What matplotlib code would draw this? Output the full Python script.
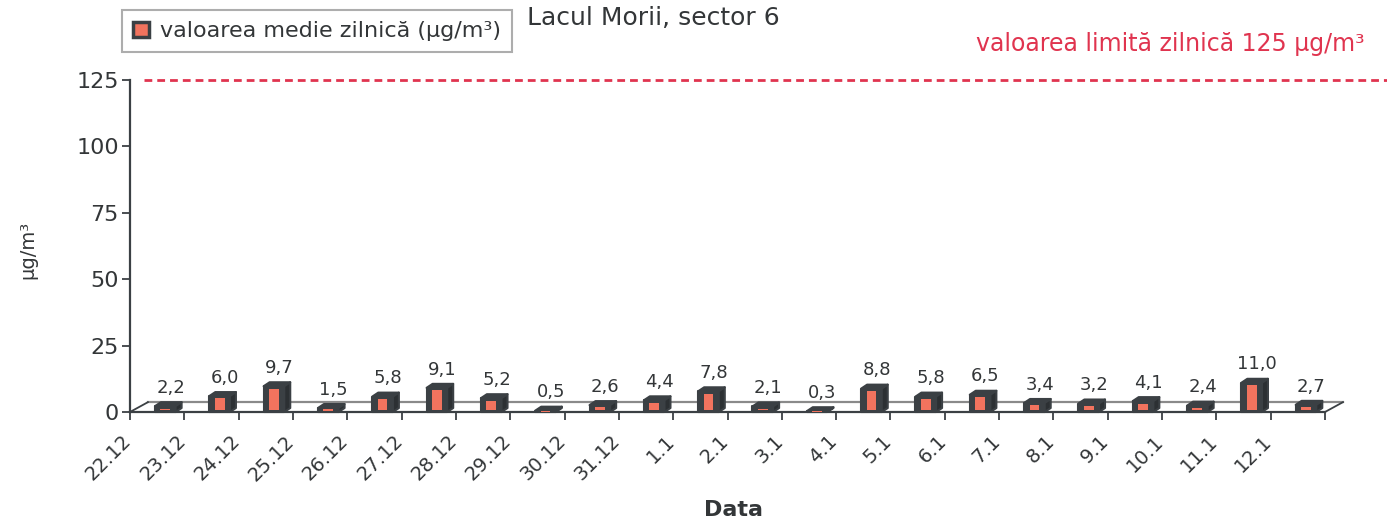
#!/usr/bin/env python3
"""Lacul Morii, sector 6 - daily mean values with pseudo-3D bars."""

import matplotlib
matplotlib.use("Agg")
import matplotlib.pyplot as plt
from matplotlib.patches import Rectangle, Polygon, Patch
from matplotlib.transforms import ScaledTranslation

# data
dates = ["22.12", "23.12", "24.12", "25.12", "26.12", "27.12", "28.12", "29.12",
         "30.12", "31.12", "1.1", "2.1", "3.1", "4.1", "5.1", "6.1", "7.1",
         "8.1", "9.1", "10.1", "11.1", "12.1"]
values = [2.2, 6.0, 9.7, 1.5, 5.8, 9.1, 5.2, 0.5, 2.6, 4.4, 7.8, 2.1, 0.3,
          8.8, 5.8, 6.5, 3.4, 3.2, 4.1, 2.4, 11.0, 2.7]
limit_value = 125
y_ticks = [0, 25, 50, 75, 100, 125]

DARK = "#3b4044"
SALMON = "#f2735e"
RED = "#e0344f"
TEXT = "#333638"

plt.rcParams['font.family'] = ['DejaVu Sans']

fig = plt.figure(figsize=(13.87, 5.21), dpi=100)
ax = fig.add_axes([130 / 1387, 1 - 412 / 521, (1325 - 130) / 1387, 332 / 521])

n = len(values)
ax.set_xlim(0, n)
ax.set_ylim(0, limit_value)

# floor depth (3D look)
fdx, fdy = 0.33, 3.7
ax.plot([0, fdx], [0, fdy], color=DARK, lw=1.3, clip_on=False, zorder=2)
ax.plot([n, n + fdx], [0, fdy], color=DARK, lw=1.3, clip_on=False, zorder=2)
ax.plot([fdx, n + fdx], [fdy, fdy], color="#8a8a8a", lw=1.6, clip_on=False, zorder=1)

# bars
w = 0.38
bdx, bdy = 0.11, 1.5
for i, v in enumerate(values):
    x0 = i + 0.5 - w / 2 + 0.15
    ax.add_patch(Rectangle((x0, 0), w, v, facecolor=DARK, edgecolor=DARK,
                           lw=1.5, joinstyle="round", zorder=3, clip_on=False))
    ax.add_patch(Polygon([(x0, v), (x0 + w, v), (x0 + w + bdx, v + bdy),
                          (x0 + bdx, v + bdy)], closed=True, facecolor=DARK,
                         edgecolor=DARK, lw=1.5, joinstyle="round", zorder=3,
                         clip_on=False))
    ax.add_patch(Polygon([(x0 + w, 0), (x0 + w + bdx, bdy), (x0 + w + bdx, v + bdy),
                          (x0 + w, v)], closed=True, facecolor="#2c3033",
                         edgecolor=DARK, lw=1.5, joinstyle="round", zorder=3,
                         clip_on=False))
    inset_x = 0.1
    inner_h = max(v - 1.8, 0.4)
    ax.add_patch(Rectangle((x0 + inset_x, (v - inner_h) / 2), w - 2 * inset_x, inner_h,
                           facecolor=SALMON, edgecolor="none", zorder=4))
    ax.text(i + 0.5 + 0.25, v + bdy + 2.0, f"{v:.1f}".replace(".", ","), ha="center",
            va="bottom", fontsize=13, color=TEXT, zorder=5)

# limit line
ax.plot([0.25, n + 1.15], [limit_value, limit_value], color=RED, lw=2,
        ls=(0, (2.8, 1.8)), clip_on=False, zorder=2)

# axes styling
for side in ["top", "right"]:
    ax.spines[side].set_visible(False)
ax.spines["left"].set_color(DARK)
ax.spines["bottom"].set_color(DARK)
ax.spines["left"].set_linewidth(1.6)
ax.spines["bottom"].set_linewidth(1.6)

ax.set_yticks(y_ticks)
ax.set_yticklabels([str(t) for t in y_ticks], fontsize=16, color=TEXT)
ax.set_xticks(range(n + 1))
ax.set_xticklabels(dates + [""], rotation=45, ha="right", va="top",
                   rotation_mode="anchor", fontsize=14, color=TEXT)
ax.tick_params(axis="x", direction="out", length=6, width=1.3, color=DARK, pad=8)
ax.tick_params(axis="y", direction="out", length=6, width=1.3, color=DARK, pad=2)
shift = ScaledTranslation(-6 / 72, 0, fig.dpi_scale_trans)
for lbl in ax.get_xticklabels():
    lbl.set_transform(lbl.get_transform() + shift)

fig.text(28 / 1387, 1 - 250 / 521, "µg/m³", rotation=90, ha="center", va="center",
         fontsize=14, color=TEXT)
fig.text(733 / 1387, 1 - 510 / 521, "Data", ha="center", va="center",
         fontsize=16, fontweight="bold", color=TEXT)

# title, legend and limit annotation
fig.text(527 / 1387, 1 - 18 / 521, "Lacul Morii, sector 6", ha="left", va="center",
         fontsize=18, color=TEXT)
fig.text(1365 / 1387, 1 - 44 / 521, "valoarea limită zilnică 125 µg/m³", ha="right",
         va="center", fontsize=17, color=RED)

handle = Patch(facecolor=SALMON, edgecolor=DARK, linewidth=2.5)
leg = fig.legend(handles=[handle], labels=["valoarea medie zilnică (µg/m³)"],
                 loc="upper left", bbox_to_anchor=(122 / 1387, 1 - 10 / 521),
                 fontsize=16, frameon=True, fancybox=False, handlelength=0.7,
                 handleheight=0.7, handletextpad=0.5, borderpad=0.5,
                 borderaxespad=0, labelcolor=TEXT)
leg.get_frame().set_edgecolor("#999999")
leg.get_frame().set_linewidth(1.5)

fig.savefig("out.png", dpi=100)
